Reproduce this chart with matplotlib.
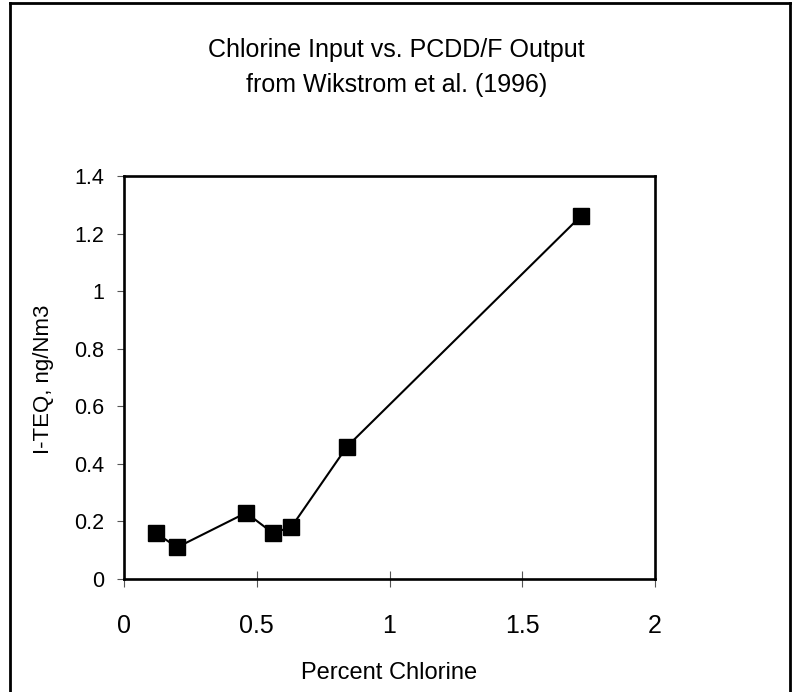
import matplotlib
matplotlib.use("Agg")
import matplotlib.pyplot as plt
from matplotlib.lines import Line2D

plt.rcParams['font.family'] = ['Liberation Sans', 'DejaVu Sans']

percent_chlorine = [0.12, 0.20, 0.46, 0.56, 0.63, 0.84, 1.72]
iteq = [0.16, 0.11, 0.23, 0.16, 0.18, 0.46, 1.26]
x_ticks = [0, 0.5, 1, 1.5, 2]
x_tick_labels = ["0", "0.5", "1", "1.5", "2"]
y_ticks = [0, 0.2, 0.4, 0.6, 0.8, 1.0, 1.2, 1.4]
y_tick_labels = ["0", "0.2", "0.4", "0.6", "0.8", "1", "1.2", "1.4"]

W, H = 793, 692
fig = plt.figure(figsize=(W / 100, H / 100), dpi=100)
ax = fig.add_axes([124 / W, 1 - 579 / H, (655 - 124) / W, (579 - 176) / H])

ax.plot(percent_chlorine, iteq, color='black', linewidth=1.5,
        marker='s', markersize=11.2, markerfacecolor='black', markeredgecolor='black')

ax.set_xlim(0, 2)
ax.set_ylim(0, 1.4)
ax.set_xticks(x_ticks)
ax.set_xticklabels(x_tick_labels, fontsize=18)
ax.set_yticks(y_ticks)
ax.set_yticklabels(y_tick_labels, fontsize=15.5)
ax.tick_params(axis='x', direction='inout', length=12, width=0.8, color='#555555', pad=19)
ax.tick_params(axis='y', direction='out', length=5, width=0.8, color='#555555', pad=9)
for s in ax.spines.values():
    s.set_linewidth(1.9)
    s.set_color('black')

ax.set_xlabel("Percent Chlorine", fontsize=17)
ax.xaxis.set_label_coords(0.5, -(662 - 579) / (579 - 176))
ax.set_ylabel("I-TEQ, ng/Nm3", fontsize=16)
ax.yaxis.set_label_coords(-(124 - 54) / (655 - 124), 0.495)

fig.text(0.5, 1 - 57 / H, "Chlorine Input vs. PCDD/F Output", ha='center', va='baseline', fontsize=18)
fig.text(0.5, 1 - 92 / H, "from Wikstrom et al. (1996)", ha='center', va='baseline', fontsize=18)

# figure frame (left, top and right edges visible)
fig.add_artist(Line2D([9.7 / W, 9.7 / W], [0, 1 - 3 / H], transform=fig.transFigure,
                      color='black', linewidth=2))
fig.add_artist(Line2D([9.7 / W, 790 / W], [1 - 3 / H, 1 - 3 / H], transform=fig.transFigure,
                      color='black', linewidth=2))
fig.add_artist(Line2D([790 / W, 790 / W], [0, 1 - 3 / H], transform=fig.transFigure,
                      color='black', linewidth=2))

fig.savefig("out.png", dpi=100)
